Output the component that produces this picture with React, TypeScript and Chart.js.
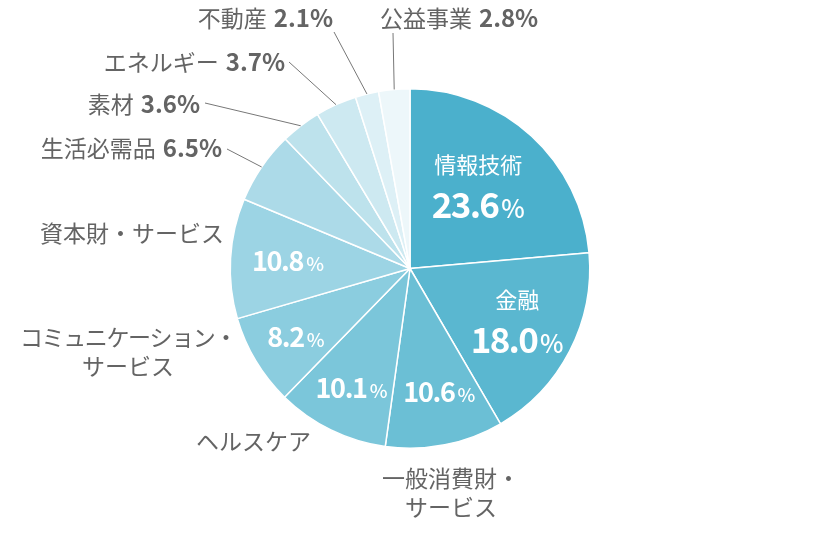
import React, { useEffect, useRef } from 'react';
import Chart from 'chart.js/auto';

// sector weights (%), clockwise from 12 o'clock
const categories = [
  '情報技術',
  '金融',
  '一般消費財・サービス',
  'ヘルスケア',
  'コミュニケーション・サービス',
  '資本財・サービス',
  '生活必需品',
  '素材',
  'エネルギー',
  '不動産',
  '公益事業',
];
const weights = [23.6, 18.0, 10.6, 10.1, 8.2, 10.8, 6.5, 3.6, 3.7, 2.1, 2.8];
const sliceColors = [
  '#4bb0cc', '#5ab7d0', '#6bbfd5', '#7bc6da', '#8bcddf', '#9cd4e4',
  '#acdae8', '#bde2ec', '#cde9f1', '#ddf0f6', '#edf7fa',
];

const FONT = '"Noto Sans CJK JP", "Noto Sans", sans-serif';
const GRAY = '#646464';
const OUT_SIZE = 23;

// labels drawn inside the slice: name lines (optional), radius fraction, nudges
const innerLabels = [
  { index: 0, name: ['情報技術'], r: 0.62, dx: -7, dy: 0, size: 35 },
  { index: 1, name: ['金融'], r: 0.64, dx: 5, dy: 0, size: 35 },
  { index: 2, name: [], r: 0.7, dx: 5, dy: 0, size: 27 },
  { index: 3, name: [], r: 0.74, dx: 0, dy: 0, size: 27 },
  { index: 4, name: [], r: 0.74, dx: 0, dy: 0, size: 27 },
  { index: 5, name: [], r: 0.68, dx: 0, dy: 0, size: 27 },
];

// labels drawn outside: text anchor, alignment, optional leader-line end
const outerLabels = [
  { index: 2, lines: ['一般消費財・', 'サービス'], x: 451, y: 478, align: 'center', pct: false, leader: null, tight: [0, 0] },
  { index: 3, lines: ['ヘルスケア'], x: 196, y: 441, align: 'left', pct: false, leader: null, tight: [0] },
  { index: 4, lines: ['コミュニケーション・', 'サービス'], x: 128, y: 337, align: 'center', pct: false, leader: null, tight: [-1.4, 0] },
  { index: 5, lines: ['資本財・サービス'], x: 224, y: 233, align: 'right', pct: false, leader: null, tight: [0] },
  { index: 6, lines: ['生活必需品'], x: 222, y: 148, align: 'right', pct: true, leader: [227, 149], tight: [0] },
  { index: 7, lines: ['素材'], x: 200, y: 104, align: 'right', pct: true, leader: [205, 103], tight: [0] },
  { index: 8, lines: ['エネルギー'], x: 285, y: 62, align: 'right', pct: true, leader: [289, 62], tight: [0] },
  { index: 9, lines: ['不動産'], x: 333, y: 18, align: 'right', pct: true, leader: [334, 32], tight: [0] },
  { index: 10, lines: ['公益事業'], x: 380, y: 18, align: 'left', pct: true, leader: [393, 33], tight: [0] },
];

const pctText = (v: number) => v.toFixed(1);

const labelPlugin = {
  id: 'sectorLabels',
  afterDatasetsDraw(chart: any) {
    const ctx: any = chart.ctx;
    const meta = chart.getDatasetMeta(0);
    ctx.save();
    ctx.textBaseline = 'middle';

    // inside labels
    innerLabels.forEach((l) => {
      const arc = meta.data[l.index];
      const { x, y, startAngle, endAngle, outerRadius } = arc.getProps(
        ['x', 'y', 'startAngle', 'endAngle', 'outerRadius'], true);
      const mid = (startAngle + endAngle) / 2;
      const cx = x + Math.cos(mid) * outerRadius * l.r + l.dx;
      let cy = y + Math.sin(mid) * outerRadius * l.r + l.dy;
      ctx.fillStyle = '#ffffff';
      ctx.letterSpacing = '0px';
      if (l.name.length) {
        ctx.font = `400 22px ${FONT}`;
        ctx.textAlign = 'center';
        ctx.fillText(l.name[0], cx, cy - 22);
        cy += 19;
      }
      const num = pctText(weights[l.index]);
      const small = Math.round(l.size * 0.7);
      ctx.letterSpacing = `${-l.size * 0.05}px`;
      ctx.font = `600 ${l.size}px ${FONT}`;
      const nw = ctx.measureText(num).width;
      ctx.letterSpacing = '0px';
      ctx.font = `500 ${small}px ${FONT}`;
      const pw = ctx.measureText('%').width;
      const gap = 3;
      const left = cx - (nw + gap + pw) / 2;
      ctx.textAlign = 'left';
      ctx.textBaseline = 'alphabetic';
      const base = cy + l.size * 0.36;
      ctx.letterSpacing = `${-l.size * 0.05}px`;
      ctx.font = `600 ${l.size}px ${FONT}`;
      ctx.fillText(num, left, base);
      ctx.letterSpacing = '0px';
      ctx.font = `500 ${small}px ${FONT}`;
      ctx.fillText('%', left + nw + gap, base);
      ctx.textBaseline = 'middle';
    });

    // outside labels with leader lines
    outerLabels.forEach((l) => {
      const arc = meta.data[l.index];
      ctx.fillStyle = GRAY;
      if (l.leader) {
        const { x, y, startAngle, endAngle, outerRadius } = arc.getProps(
          ['x', 'y', 'startAngle', 'endAngle', 'outerRadius'], true);
        const mid = (startAngle + endAngle) / 2;
        ctx.strokeStyle = '#777777';
        ctx.lineWidth = 1;
        ctx.beginPath();
        ctx.moveTo(l.leader[0], l.leader[1]);
        ctx.lineTo(x + Math.cos(mid) * outerRadius, y + Math.sin(mid) * outerRadius);
        ctx.stroke();
      }
      l.lines.forEach((line, i) => {
        const ly = l.y + i * 29;
        const last = i === l.lines.length - 1;
        ctx.letterSpacing = `${l.tight[i] || 0}px`;
        if (l.pct && last) {
          const pct = pctText(weights[l.index]) + '%';
          ctx.font = `700 ${OUT_SIZE + 1}px ${FONT}`;
          const pw = ctx.measureText(pct).width;
          ctx.font = `400 ${OUT_SIZE}px ${FONT}`;
          const nw = ctx.measureText(line).width;
          const gap = 7;
          let start = l.x;
          if (l.align === 'right') start = l.x - (nw + gap + pw);
          if (l.align === 'center') start = l.x - (nw + gap + pw) / 2;
          ctx.textAlign = 'left';
          ctx.font = `400 ${OUT_SIZE}px ${FONT}`;
          ctx.fillText(line, start, ly);
          ctx.font = `700 ${OUT_SIZE + 1}px ${FONT}`;
          ctx.fillText(pct, start + nw + gap, ly);
        } else {
          ctx.font = `400 ${OUT_SIZE}px ${FONT}`;
          ctx.textAlign = l.align;
          ctx.fillText(line, l.x, ly);
        }
        ctx.letterSpacing = '0px';
      });
    });
    ctx.restore();
  },
};

const SectorPie: React.FC = () => {
  const chartRef = useRef<HTMLCanvasElement>(null);
  const chartInstance = useRef<Chart | null>(null);

  useEffect(() => {
    if (!chartRef.current) return;
    if (chartInstance.current) chartInstance.current.destroy();

    chartInstance.current = new Chart(chartRef.current, {
      type: 'pie',
      data: {
        labels: categories,
        datasets: [
          {
            data: weights,
            backgroundColor: sliceColors,
            borderColor: '#ffffff',
            borderWidth: 1.5,
            hoverOffset: 0,
          },
        ],
      },
      options: {
        responsive: true,
        maintainAspectRatio: false,
        animation: false,
        layout: { padding: { top: 88, bottom: 91, left: 229, right: 229 } },
        plugins: {
          legend: { display: false },
          tooltip: { enabled: false },
        },
      },
      plugins: [labelPlugin],
    });

    return () => {
      if (chartInstance.current) {
        chartInstance.current.destroy();
        chartInstance.current = null;
      }
    };
  }, []);

  return (
    <div style={{ position: 'fixed', left: 0, top: 0, width: 820, height: 540, background: '#ffffff' }}>
      <canvas ref={chartRef}></canvas>
    </div>
  );
};

export default function App() {
  return <SectorPie />;
}
